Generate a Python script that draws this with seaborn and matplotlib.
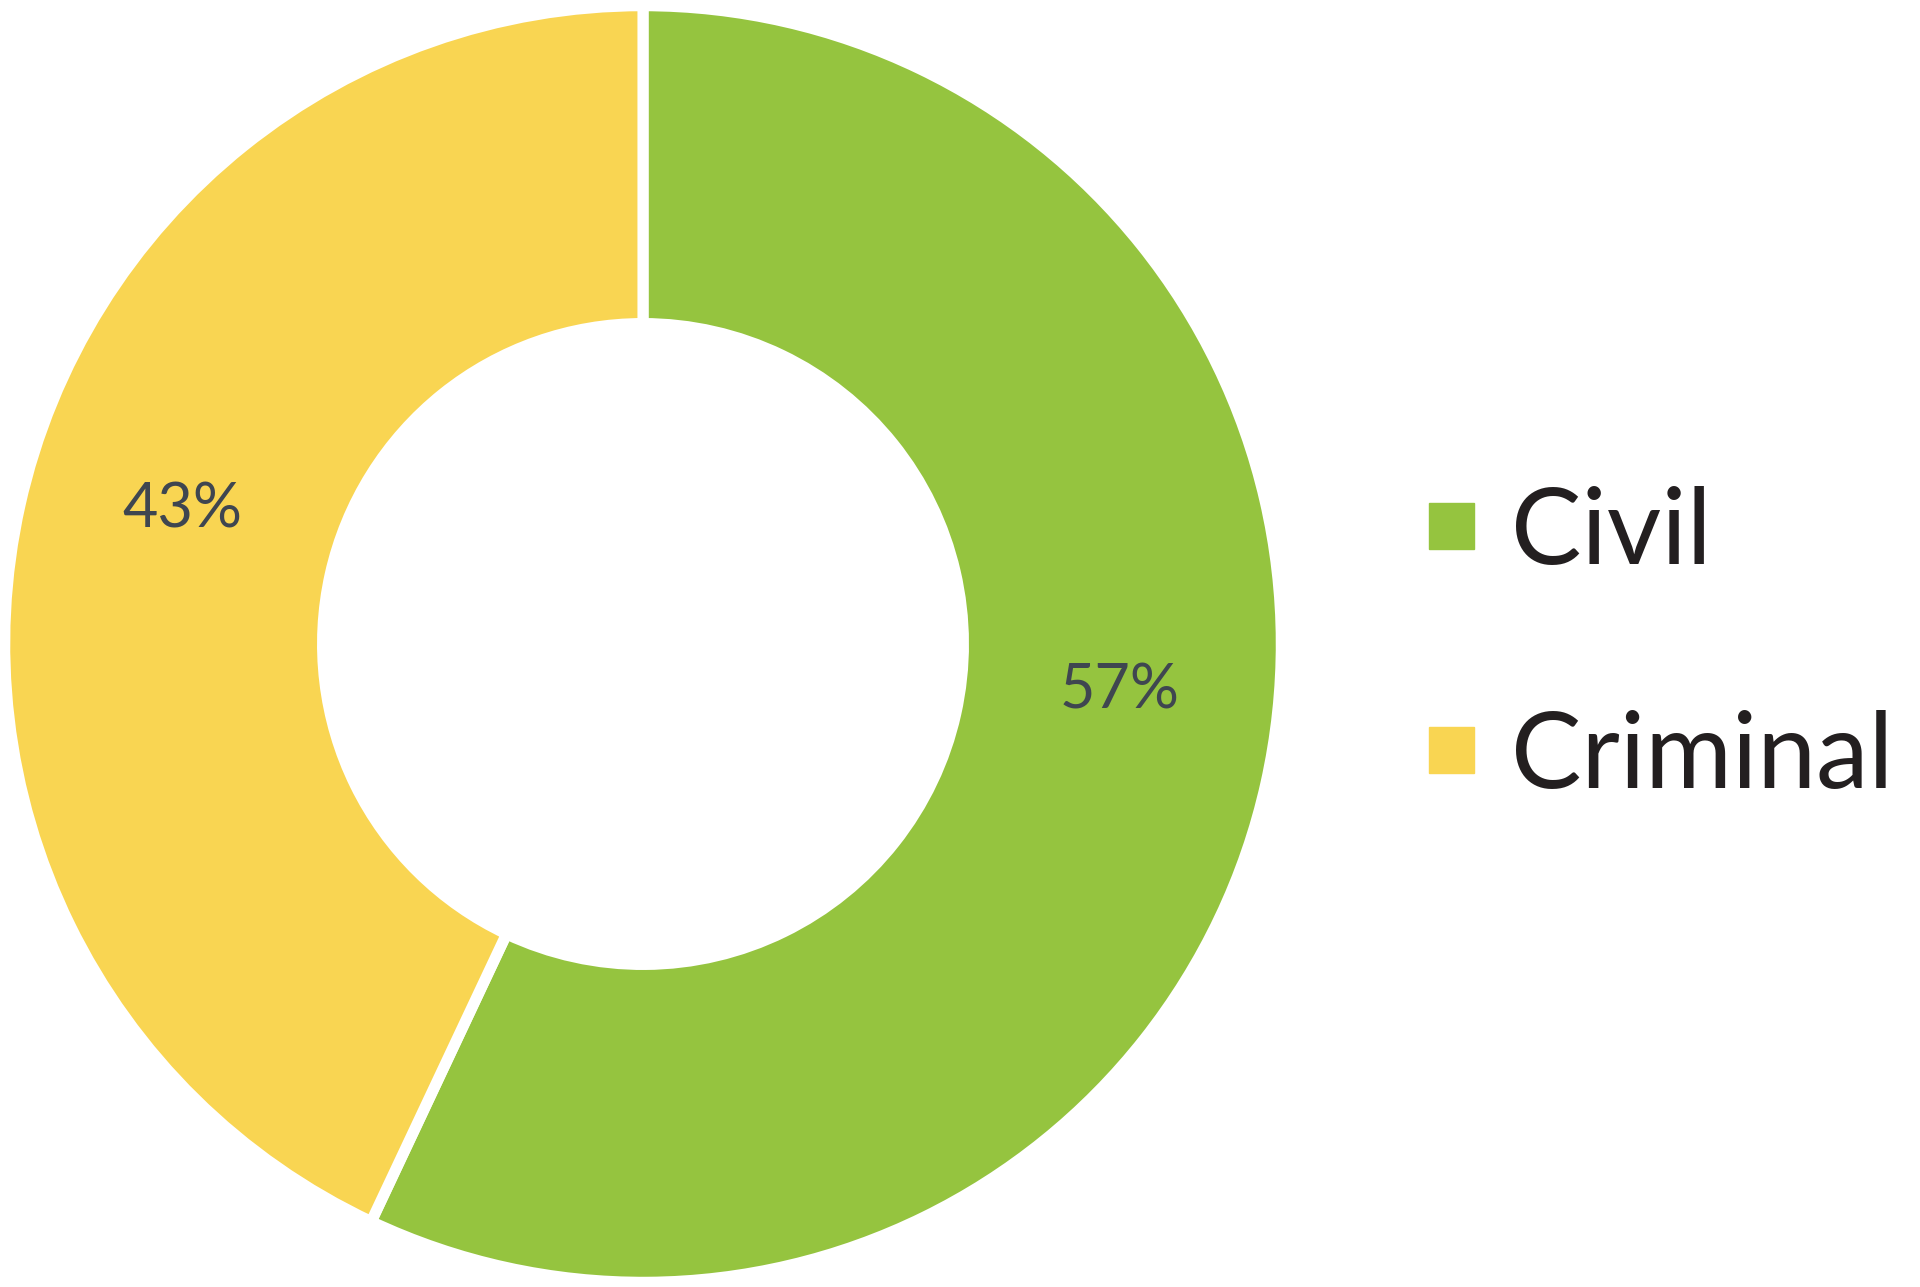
import matplotlib
matplotlib.use("Agg")
import numpy as np
import matplotlib.pyplot as plt
import matplotlib.patches as mpatches
import seaborn as sns

categories = ["Civil", "Criminal"]
shares = [57, 43]
colors = ["#95C43F", "#F9D552"]

sns.set_theme(style="white")
plt.rcParams["font.family"] = ["Lato", "DejaVu Sans"]

fig = plt.figure(figsize=(19.2, 12.87), dpi=100)
ax = fig.add_axes([11 / 1920, 11 / 1287, 1264 / 1920, 1264 / 1287])

outer = 1.01
ring = 0.503

wedges, texts = ax.pie(
    shares,
    colors=colors,
    startangle=90,
    counterclock=False,
    radius=outer,
    wedgeprops=dict(width=ring, edgecolor="white", linewidth=8),
)

# percentage labels sit in the ring, nudged up a little like the original
label_shift = [7, -3.6]
for w, share, shift in zip(wedges, shares, label_shift):
    mid = np.deg2rad((w.theta1 + w.theta2) / 2 + shift)
    r = outer - ring / 2
    ax.text(r * np.cos(mid), r * np.sin(mid), f"{share}%",
            ha="center", va="center", fontsize=44, color="#3F4650")

ax.set_xlim(-1, 1)
ax.set_ylim(-1, 1)
ax.set_aspect("equal")
ax.axis("off")

handles = [mpatches.Patch(color=c, label=l) for c, l in zip(colors, categories)]
fig.legend(
    handles=handles,
    loc="center left",
    bbox_to_anchor=(1429 / 1920, 0.498),
    frameon=False,
    fontsize=76,
    handlelength=0.43,
    handleheight=0.29,
    handletextpad=0.35,
    labelspacing=1.21,
    borderpad=0,
    borderaxespad=0,
    labelcolor="#231F20",
)

fig.savefig("out.png", dpi=100)
